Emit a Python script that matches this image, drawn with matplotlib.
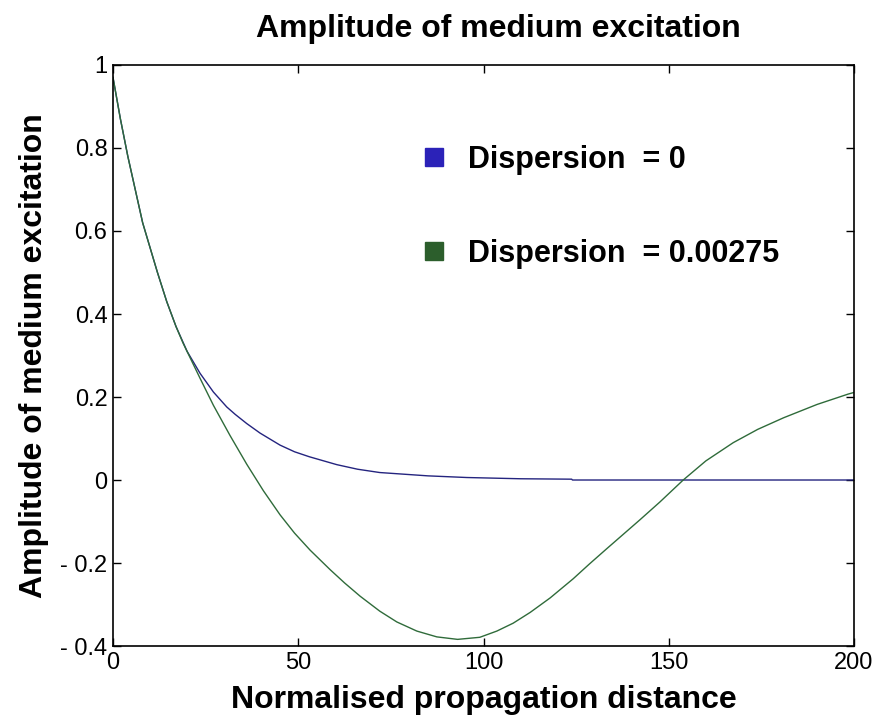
import matplotlib
matplotlib.use("Agg")
import matplotlib.pyplot as plt
from matplotlib.lines import Line2D

plt.rcParams['font.family'] = ['Liberation Sans', 'DejaVu Sans']

# distance / amplitude
dist_d0 = [0, 2, 4, 6, 8, 10, 12, 14.5, 17, 20, 23.5, 27.1, 30.7, 33, 36.1,
           39.7, 45.1, 49, 53, 60.4, 66, 72, 85, 95.5, 110, 123.8, 124, 200]
amp_d0 = [0.97, 0.87, 0.78, 0.70, 0.62, 0.56, 0.50, 0.43, 0.37, 0.31, 0.257,
          0.212, 0.176, 0.158, 0.136, 0.113, 0.084, 0.068, 0.056, 0.037,
          0.026, 0.018, 0.010, 0.006, 0.003, 0.002, 0.0, 0.0]

dist_d1 = [0, 2, 4, 6, 8, 10, 12, 14.5, 17, 18.9, 23.5, 27.1, 31.6, 36.1, 40.6,
           45.1, 49, 53.2, 58.6, 62.5, 66.7, 72, 76.6, 82, 87.4, 93, 99, 103.6,
           108, 112.6, 118, 124.2, 128.5, 133.2, 142.2, 147.6, 153.9, 160,
           167.4, 174, 181, 190, 198.4, 200]
amp_d1 = [0.97, 0.87, 0.78, 0.70, 0.62, 0.56, 0.50, 0.43, 0.37, 0.33, 0.245,
          0.18, 0.107, 0.038, -0.026, -0.084, -0.128, -0.169, -0.216, -0.248,
          -0.28, -0.316, -0.342, -0.364, -0.378, -0.384, -0.379, -0.364,
          -0.345, -0.319, -0.284, -0.238, -0.203, -0.166, -0.096, -0.053, 0.0,
          0.046, 0.090, 0.122, 0.150, 0.182, 0.207, 0.211]

labels = ['Dispersion  = 0', 'Dispersion  = 0.00275']
xticks = [0, 50, 100, 150, 200]
yticks = [-0.4, -0.2, 0, 0.2, 0.4, 0.6, 0.8, 1]
ytick_labels = ['- 0.4', '- 0.2', '0', '0.2', '0.4', '0.6', '0.8', '1']

fig = plt.figure(figsize=(8.78, 7.27), dpi=100)
ax = fig.add_axes([0.1287, 0.1114, 0.8440, 0.7992])

ax.plot(dist_d0, amp_d0, color='#24247f', lw=1.0)
ax.plot(dist_d1, amp_d1, color='#2f6b3a', lw=1.0)

ax.set_xlim(0, 200)
ax.set_ylim(-0.4, 1)
ax.set_xticks(xticks)
ax.set_xticklabels([str(t) for t in xticks])
ax.set_yticks(yticks)
ax.set_yticklabels(ytick_labels)
ax.tick_params(direction='in', length=6, width=1, top=True, right=True,
               labelsize=17, pad=4)
for s in ax.spines.values():
    s.set_linewidth(1.2)

ax.set_title('Amplitude of medium excitation', fontsize=23, fontweight='bold',
             pad=20, x=0.52)
ax.set_xlabel('Normalised propagation distance', fontsize=23,
              fontweight='bold', labelpad=8)
ax.set_ylabel('Amplitude of medium excitation', fontsize=23,
              fontweight='bold', labelpad=8)

handles = [Line2D([], [], ls='none', marker='s', markersize=13,
                  color='#2b22b8'),
           Line2D([], [], ls='none', marker='s', markersize=13,
                  color='#2c5e2c')]
leg = ax.legend(handles, labels, loc='upper left',
                bbox_to_anchor=(0.376, 0.91), frameon=False,
                prop={'size': 22, 'weight': 'bold'}, labelspacing=2.1,
                handletextpad=0.6, handlelength=1.0)

fig.savefig('out.png', dpi=100)
